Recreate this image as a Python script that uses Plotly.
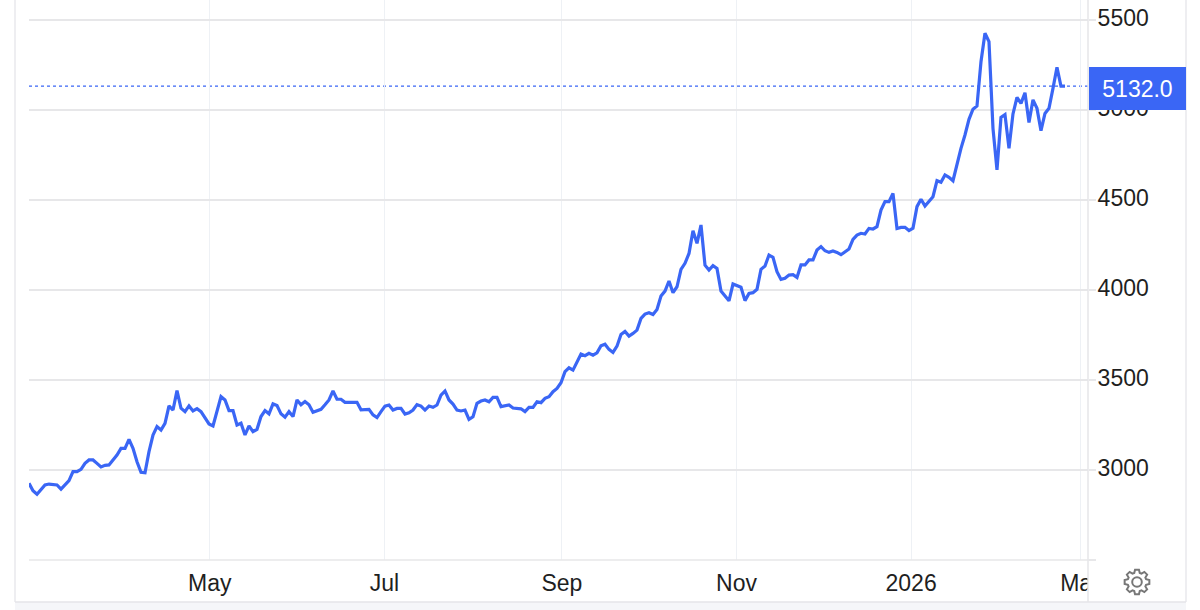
import math
import pandas as pd
import plotly.graph_objects as go

# ---- data ----
start_date = "2025-02-26 20:00"
end_date = "2026-02-23 18:00"
prices_spring = [2926, 2885, 2865, 2893, 2917, 2922, 2918, 2917, 2894, 2917, 2941, 2991, 2991, 3004, 3037,
                 3056, 3056, 3037, 3017, 3026, 3028, 3056, 3083, 3120, 3120, 3170, 3120, 3046, 2987, 2985,
                 3102, 3194, 3241, 3222, 3259, 3356, 3333, 3441, 3343, 3324, 3356, 3328, 3341, 3324, 3287]
prices_may_jun = [3256, 3245, 3324, 3408, 3389, 3330, 3330, 3250, 3260, 3195, 3245, 3213, 3226, 3297, 3330,
                  3312, 3367, 3358, 3312, 3293, 3324, 3297, 3389, 3362, 3380, 3362, 3321, 3330, 3337, 3362,
                  3389, 3439, 3393, 3393, 3376, 3376, 3376, 3376, 3334, 3337, 3337, 3306, 3291]
prices_jul_aug = [3324, 3355, 3361, 3333, 3342, 3342, 3311, 3318, 3333, 3363, 3355, 3333, 3355, 3348, 3361,
                  3416, 3439, 3389, 3366, 3333, 3328, 3333, 3281, 3296, 3370, 3383, 3389, 3379, 3403, 3403,
                  3352, 3357, 3361, 3344, 3344, 3340, 3324, 3348, 3348, 3379, 3374, 3398, 3407, 3435]
prices_sep_oct = [3453, 3485, 3546, 3568, 3555, 3601, 3644, 3635, 3648, 3638, 3651, 3690, 3699, 3670, 3653,
                  3688, 3753, 3770, 3744, 3759, 3777, 3842, 3866, 3874, 3864, 3892, 3966, 3994, 4050, 3985,
                  4018, 4114, 4148, 4203, 4329, 4259, 4361, 4138, 4111, 4135, 4120, 3994, 3966, 3940]
prices_nov_dec = [4033, 4022, 4015, 3941, 3981, 3985, 4004, 4115, 4133, 4194, 4181, 4102, 4059, 4065, 4083,
                  4085, 4070, 4139, 4139, 4167, 4167, 4222, 4241, 4218, 4209, 4217, 4209, 4196, 4211, 4228,
                  4281, 4305, 4315, 4311, 4342, 4339, 4352, 4444, 4491, 4491, 4537, 4342]
prices_jan = [4348, 4348, 4330, 4343, 4463, 4504, 4467, 4491, 4518, 4607, 4598, 4639, 4626, 4607, 4704,
              4787, 4861, 4948, 5004, 5022]
prices_feb = [5268, 5426, 5380, 4898, 4667, 4959, 4974, 4787, 4978, 5070, 5037, 5096, 4930, 5056, 5009,
              4885, 4981, 5009, 5120, 5237, 5132, 5132]
last_value = 5132.0
y_ticks = [2500, 3000, 3500, 4000, 4500, 5000, 5500]
y_labels = ["", "3000", "3500", "4000", "4500", "5000", "5500"]
x_ticks = ["2025-05-01", "2025-07-01", "2025-09-01", "2025-11-01", "2026-01-01", "2026-03-01"]
x_labels = ["May", "Jul", "Sep", "Nov", "2026", "Mar"]

prices = prices_spring + prices_may_jun + prices_jul_aug + prices_sep_oct + prices_nov_dec + prices_jan + prices_feb
dates = pd.date_range(start_date, end_date, periods=len(prices))

# ---- layout constants (pixels) ----
W, H = 1200, 610
L, R, B = 29, 1088, 560
BLUE = "#3a66f5"
TEXT = "#1f1f1f"
GRID = "#e7e7e9"
VGRID = "#eef1f5"
FONT = "Liberation Sans, Arial, sans-serif"


def px(x):
    return (x - L) / (R - L)


def py(y):
    return (B - y) / B


def gear_path(cx, cy, r_out, r_in, teeth=8):
    pts = []
    for i in range(teeth):
        a = 2 * math.pi * i / teeth - math.pi / 2
        step = 2 * math.pi / teeth
        for off, r in [(-0.30, r_in), (-0.16, r_out), (0.16, r_out), (0.30, r_in)]:
            t = a + off * step * 1.25
            pts.append((px(cx + r * math.cos(t)), py(cy + r * math.sin(t))))
    return "M " + " L ".join(f"{a:.5f},{b:.5f}" for a, b in pts) + " Z"


fig = go.Figure()
fig.add_trace(go.Scatter(x=dates, y=prices, mode="lines",
                         line=dict(color=BLUE, width=3.2, shape="linear"),
                         hoverinfo="skip", showlegend=False))


def frame(x0, y0, x1, y1, color, width=1.5):
    return dict(type="line", xref="paper", yref="paper", x0=px(x0), x1=px(x1), y0=py(y0), y1=py(y1),
                line=dict(color=color, width=width), layer="above")


shapes = [
    # band below the chart
    dict(type="rect", xref="paper", yref="paper", x0=px(15), x1=px(1186), y0=py(602), y1=py(610),
         fillcolor="#f5f6f9", line_width=0, layer="below"),
    # covers the end of the last month label
    dict(type="rect", xref="paper", yref="paper", x0=px(1088), x1=px(1118), y0=py(566), y1=py(600),
         fillcolor="white", line_width=0, layer="above"),
    frame(15, 0, 15, 602, "#e8e8ec"),
    frame(1186, 0, 1186, 602, "#e8e8ec"),
    frame(15, 602, 1186, 602, "#e4e4e8"),
    frame(1088, 0, 1088, 602, "#e6e6e9"),
    # bottom axis line
    frame(29, 560, 1095, 560, GRID),
    # last-price dotted line
    dict(type="line", xref="paper", yref="y", x0=0, x1=1, y0=last_value, y1=last_value,
         line=dict(color=BLUE, width=1.2, dash="dot"), layer="below"),
    # gear icon
    dict(type="path", xref="paper", yref="paper", path=gear_path(1137, 582, 12.5, 9.5),
         line=dict(color="#777777", width=2), fillcolor="rgba(0,0,0,0)", layer="above"),
    dict(type="circle", xref="paper", yref="paper", x0=px(1132.2), x1=px(1141.8), y0=py(586.8), y1=py(577.2),
         line=dict(color="#777777", width=2), layer="above"),
]

annotations = [
    dict(xref="paper", yref="y", x=px(1089), xanchor="left", y=last_value, yanchor="middle", yshift=-2.5,
         text=f"{last_value:.1f}", showarrow=False, bgcolor=BLUE, width=97, height=43, align="center",
         valign="middle", borderpad=0, borderwidth=0, font=dict(family=FONT, size=23, color="white")),
]

fig.update_layout(
    width=W, height=H, autosize=False,
    margin=dict(l=L, r=W - R, t=0, b=H - B, pad=0),
    paper_bgcolor="white", plot_bgcolor="white", showlegend=False,
    shapes=shapes, annotations=annotations,
    xaxis=dict(type="date", range=["2025-02-26 20:00", "2026-03-03 19:00"],
               tickmode="array", tickvals=x_ticks, ticktext=x_labels,
               showgrid=True, gridcolor=VGRID, gridwidth=1.2,
               ticks="", showline=False, zeroline=False,
               tickangle=0, ticklabelstandoff=7,
               tickfont=dict(family=FONT, size=23, color=TEXT)),
    yaxis=dict(side="right", range=[2500, 5611], tickmode="array", tickvals=y_ticks, ticktext=y_labels,
               showgrid=True, gridcolor=GRID, gridwidth=1.5,
               ticks="outside", ticklen=7, tickwidth=1.5, tickcolor=GRID,
               ticklabelstandoff=-3, ticklabelshift=-2, showline=False, zeroline=False,
               tickfont=dict(family=FONT, size=23, color=TEXT)),
    hovermode=False,
)

fig.write_html("out.html", config=dict(displayModeBar=False),
               post_script="document.body.style.margin='0';window.dispatchEvent(new Event('resize'));")
